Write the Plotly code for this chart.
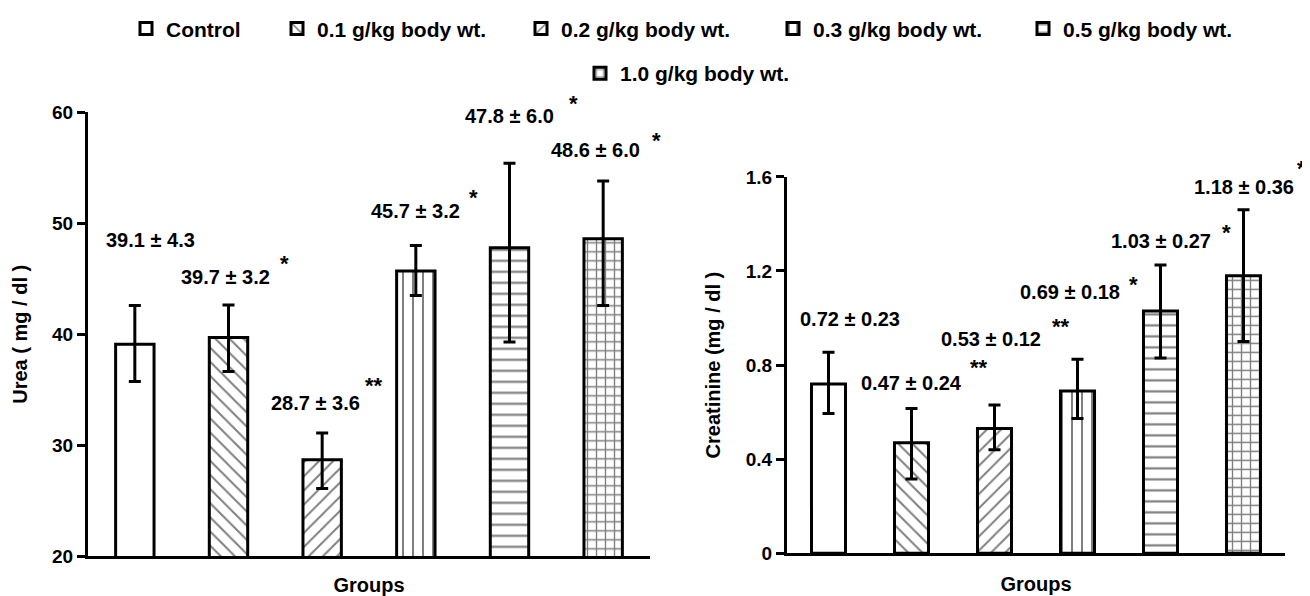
import plotly.graph_objects as go

# ---------------- data ----------------
groups = ["Control", "0.1 g/kg body wt.", "0.2 g/kg body wt.",
          "0.3 g/kg body wt.", "0.5 g/kg body wt.", "1.0 g/kg body wt."]

urea_mean = [39.1, 39.7, 28.7, 45.7, 47.8, 48.6]
urea_sd = [4.3, 3.2, 3.6, 3.2, 6.0, 6.0]
urea_err_plus = [3.5, 2.95, 2.4, 2.3, 7.6, 5.2]
urea_err_minus = [3.35, 3.05, 2.6, 2.2, 8.5, 6.0]
urea_sig = ["", "*", "**", "*", "*", "*"]

creat_mean = [0.72, 0.47, 0.53, 0.69, 1.03, 1.18]
creat_sd = [0.23, 0.24, 0.12, 0.18, 0.27, 0.36]
creat_err_plus = [0.135, 0.145, 0.10, 0.135, 0.195, 0.28]
creat_err_minus = [0.126, 0.154, 0.09, 0.117, 0.20, 0.28]
creat_sig = ["", "**", "**", "*", "*", "*"]

urea_ticks = [20, 30, 40, 50, 60]
creat_ticks = [0, 0.4, 0.8, 1.2, 1.6]

# ---------------- styles ----------------
patterns = ["", "\\", "/", "|", "-", "+"]
pattern_size = [8, 10, 10, 10, 11, 9]
pattern_solidity = [0.2, 0.2, 0.2, 0.2, 0.2, 0.28]
FONT = "Liberation Sans, Arial, sans-serif"

# label offsets (px) relative to error-bar top
urea_lab_dx = [16, -3, -7, 0, 0, -8]
urea_lab_dy = [65, 28, 30, 35, 47, 31]
urea_star_dx = [0, 59, 59, 58, 64, 61]
urea_star_dy = [0, 15, 20, 15, 15, 12]
creat_lab_dx = [21, 0, -4, -8, 0, 0]
creat_lab_dy = [33, 26, 66, 67, 24, 23]
creat_star_dx = [0, 67, 70, 64, 66, 58]
creat_star_dy = [0, 17, 15, 10, 11, 20]

legend_text_x = [166, 317, 561, 813, 1063, 620]
legend_row_y = [25, 25, 25, 25, 25, 70]

# page has an 8px body margin: size the figure to fit the window
OFF = 8
W, H = 1310 - OFF, 596 - OFF

def px_x(p):
    return (p - OFF) / W

def px_y(p):
    return 1 - (p - OFF) / H

fig = go.Figure()

def add_bars(means, eplus, eminus, xa, ya, show):
    for i, g in enumerate(groups):
        lname = "legend" if i == 0 else f"legend{i+1}"
        fig.add_trace(go.Bar(
            x=[i], y=[means[i]], name=g, width=0.41,
            xaxis=xa, yaxis=ya,
            legend=lname, showlegend=show, legendgroup=g,
            marker=dict(color="white",
                        line=dict(color="black", width=3),
                        pattern=dict(shape=patterns[i], fgcolor="black",
                                     bgcolor="white", size=pattern_size[i],
                                     solidity=pattern_solidity[i])),
            error_y=dict(type="data", symmetric=False,
                         array=[eplus[i]], arrayminus=[eminus[i]],
                         color="black", thickness=3, width=6),
        ))

add_bars(urea_mean, urea_err_plus, urea_err_minus, "x", "y", True)
add_bars(creat_mean, creat_err_plus, creat_err_minus, "x2", "y2", False)

annos = []
def add_labels(means, sds, eplus, sig, fmt, xref, yref, ldx, ldy, sdx, sdy):
    for i in range(len(groups)):
        top = means[i] + eplus[i]
        annos.append(dict(
            x=i, y=top, xref=xref, yref=yref, showarrow=False,
            text=f"{means[i]:{fmt}} ± {sds[i]:{fmt}}",
            xanchor="center", yanchor="middle",
            xshift=ldx[i], yshift=ldy[i],
            font=dict(family=FONT, size=20, color="black", weight="bold")))
        if sig[i]:
            annos.append(dict(
                x=i, y=top, xref=xref, yref=yref, showarrow=False,
                text=sig[i], xanchor="center", yanchor="middle",
                xshift=ldx[i] + sdx[i], yshift=ldy[i] + sdy[i] - 2,
                font=dict(family=FONT, size=22, color="black", weight="bold")))

add_labels(urea_mean, urea_sd, urea_err_plus, urea_sig, ".1f", "x", "y",
           urea_lab_dx, urea_lab_dy, urea_star_dx, urea_star_dy)
add_labels(creat_mean, creat_sd, creat_err_plus, creat_sig, ".2f", "x2", "y2",
           creat_lab_dx, creat_lab_dy, creat_star_dx, creat_star_dy)

axis_font = dict(family=FONT, size=19, color="black", weight="bold")
title_font = dict(family=FONT, size=20, color="black", weight="bold")

xcommon = dict(range=[-0.5, 5.5], showline=True, linewidth=3, linecolor="black",
               showticklabels=False, ticks="", showgrid=False, zeroline=False,
               automargin=False)
ycommon = dict(showline=True, linewidth=3, linecolor="black", ticks="outside",
               ticklen=8, tickwidth=3, tickcolor="black", showgrid=False,
               zeroline=False, tickfont=axis_font, automargin=False)

legends = {}
for i in range(len(groups)):
    key = "legend" if i == 0 else f"legend{i+1}"
    legends[key] = dict(
        x=px_x(legend_text_x[i] - 40), y=px_y(legend_row_y[i]),
        xanchor="left", yanchor="middle", orientation="v",
        bgcolor="rgba(0,0,0,0)", borderwidth=0, itemwidth=30,
        font=dict(family=FONT, size=21, color="black", weight="bold"))

fig.update_layout(
    width=W, height=H, margin=dict(l=0, r=0, t=0, b=0),
    paper_bgcolor="white", plot_bgcolor="white",
    barmode="overlay", showlegend=True,
    xaxis=dict(domain=[px_x(88), px_x(650)], anchor="y",
               title=dict(text="Groups", font=title_font, standoff=24), **xcommon),
    yaxis=dict(domain=[px_y(556), px_y(109)], anchor="x", range=[20, 60],
               tickvals=urea_ticks,
               title=dict(text="Urea ( mg / dl )", font=title_font, standoff=20),
               **ycommon),
    xaxis2=dict(domain=[px_x(787), px_x(1285)], anchor="y2",
                title=dict(text="Groups", font=title_font, standoff=22), **xcommon),
    yaxis2=dict(domain=[px_y(553), px_y(174)], anchor="x2", range=[0, 1.6],
                tickvals=creat_ticks,
                title=dict(text="Creatinine (mg / dl )", font=title_font, standoff=20),
                **ycommon),
    annotations=annos,
    **legends,
)

fig.write_html("out.html")
